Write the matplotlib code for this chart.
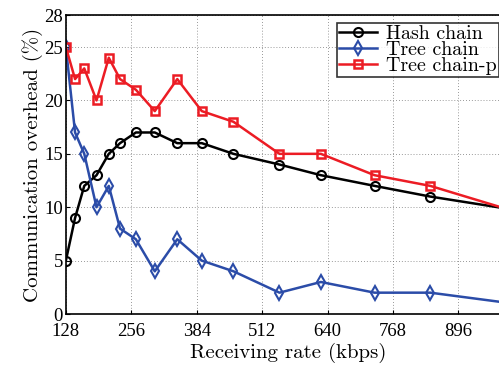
import matplotlib
matplotlib.use('Agg')
import matplotlib.pyplot as plt

# --- Data ---
rate = [128, 146, 164, 188, 212, 234, 265, 302, 346, 394, 456, 546, 627, 732, 841, 1000]
hash_chain = [5, 9, 12, 13, 15, 16, 17, 17, 16, 16, 15, 14, 13, 12, 11, 9.8]
tree_chain = [25, 17, 15, 10, 12, 8, 7, 4, 7, 5, 4, 2, 3, 2, 2, 1.0]
tree_chain_p = [25, 22, 23, 20, 24, 22, 21, 19, 22, 19, 18, 15, 15, 13, 12, 9.7]

xticks = [128, 256, 384, 512, 640, 768, 896]
yticks = [0, 5, 10, 15, 20, 25, 28]

plt.rcParams['font.family'] = ['cmr10', 'DejaVu Serif']
plt.rcParams['axes.formatter.use_mathtext'] = True
plt.rcParams['mathtext.fontset'] = 'cm'

fig = plt.figure(figsize=(4.99, 3.66), dpi=100)
ax = fig.add_axes([0.132, 0.142, 0.893, 0.817])

ax.plot(rate, hash_chain, color='black', lw=1.8, marker='o', ms=6.5,
        mfc='none', mew=1.5, label='Hash chain')
ax.plot(rate, tree_chain, color='#2b4ca8', lw=1.8, marker='d', ms=7.5,
        mfc='none', mew=1.5, label='Tree chain')
ax.plot(rate, tree_chain_p, color='#ec1c24', lw=1.8, marker='s', ms=6,
        mfc='none', mew=1.8, label='Tree chain-p')

ax.set_xlim(128, 1000)
ax.set_ylim(0, 28)
ax.set_xticks(xticks)
ax.set_yticks(yticks)
ax.set_xticklabels([str(v) for v in xticks], family='Liberation Serif')
ax.set_yticklabels([str(v) for v in yticks], family='Liberation Serif')
ax.tick_params(labelsize=13.5, direction='in', length=3)
ax.tick_params(axis='x', pad=6.5)
ax.tick_params(axis='y', pad=2)
ax.grid(True, linestyle=(0, (1, 2.5)), color='#777777', lw=0.6)
for s in ax.spines.values():
    s.set_linewidth(1.2)

ax.set_xlabel('Receiving rate (kbps)', fontsize=15, labelpad=2)
ax.set_ylabel('Communication overhead (%)', fontsize=15, labelpad=1)

leg = ax.legend(loc='upper right', bbox_to_anchor=(1.0, 0.938), bbox_transform=fig.transFigure,
                fontsize=14.4, frameon=True, fancybox=False, edgecolor='black',
                borderpad=0.1, labelspacing=-0.08, handlelength=1.9, handletextpad=0.45,
                borderaxespad=0)
leg.get_frame().set_linewidth(1.2)

fig.savefig('out.png', dpi=100)
